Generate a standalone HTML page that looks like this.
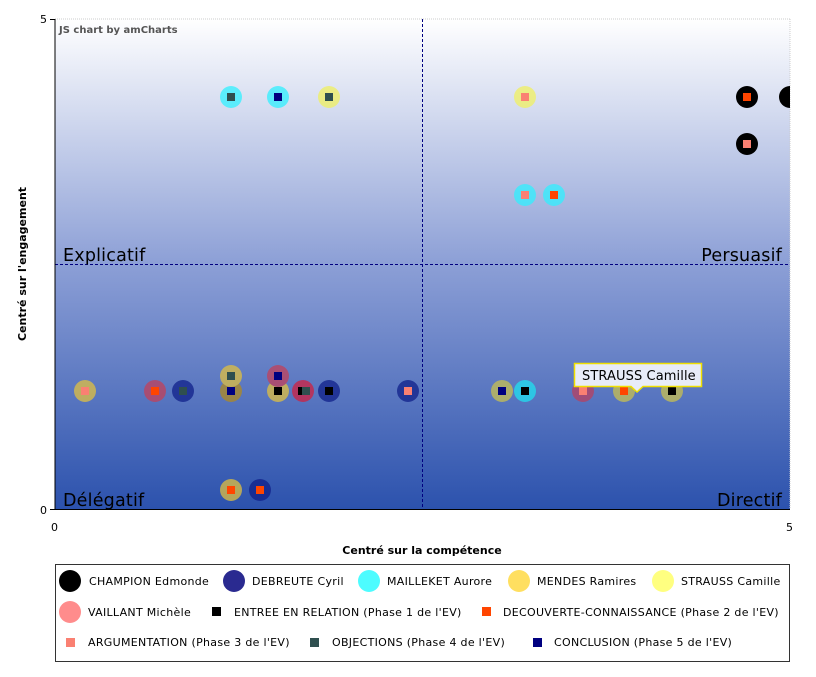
<!DOCTYPE html>
<html><head><meta charset="utf-8"><style>
html,body{margin:0;padding:0;background:#fff;}
svg text{font-family:"DejaVu Sans","Liberation Sans",sans-serif;}
</style></head><body>
<svg width="816" height="672" xmlns="http://www.w3.org/2000/svg">
<defs>
<linearGradient id="bg" x1="0" y1="0" x2="0" y2="1">
<stop offset="0" stop-color="#ffffff"/>
<stop offset="0.5" stop-color="#8c9fd6"/>
<stop offset="1" stop-color="#2c52ad"/>
</linearGradient>
<clipPath id="pc"><rect x="55" y="19" width="735" height="490"/></clipPath>
</defs>
<rect x="55" y="19" width="735" height="490" fill="url(#bg)"/>
<line x1="55" y1="19" x2="790" y2="19" stroke="#ccc" stroke-dasharray="1,1"/>
<line x1="790" y1="19" x2="790" y2="509" stroke="#ccc" stroke-dasharray="1,1"/>
<line x1="422.5" y1="19" x2="422.5" y2="509" stroke="#000080" stroke-dasharray="3,2"/>
<line x1="55" y1="264.5" x2="790" y2="264.5" stroke="#000080" stroke-dasharray="3,2"/>
<line x1="55" y1="19" x2="55" y2="509" stroke="#000" stroke-width="1"/>
<line x1="55" y1="509.5" x2="790" y2="509.5" stroke="#000"/>
<line x1="50" y1="19.5" x2="55" y2="19.5" stroke="#000"/>
<line x1="50" y1="509.5" x2="55" y2="509.5" stroke="#000"/>
<text x="40" y="23" font-size="11">5</text>
<text x="40" y="514" font-size="11">0</text>
<text x="51" y="531" font-size="11">0</text>
<text x="786" y="531" font-size="11">5</text>
<text x="59" y="33" font-size="10" font-weight="bold" fill="#555">JS chart by amCharts</text>
<g font-size="17.5" letter-spacing="0.2">
<text x="63" y="261">Explicatif</text>
<text x="782" y="261" text-anchor="end">Persuasif</text>
<text x="63" y="506">Délégatif</text>
<text x="782" y="506" text-anchor="end">Directif</text>
</g>
<text x="422" y="554" font-size="11" font-weight="bold" text-anchor="middle">Centré sur la compétence</text>
<text transform="translate(26,264) rotate(-90)" font-size="11" font-weight="bold" text-anchor="middle">Centré sur l'engagement</text>
<g clip-path="url(#pc)">
<g opacity="0.75">
<circle cx="85" cy="391" r="11" fill="#e0c040"/>
<circle cx="155" cy="391" r="11" fill="#c2405a"/>
<circle cx="183" cy="391" r="11" fill="#10208a"/>
<circle cx="231" cy="391" r="11" fill="#b08a20"/>
<circle cx="231" cy="376" r="11" fill="#e0c040"/>
<circle cx="278" cy="391" r="11" fill="#e0c040"/>
<circle cx="278" cy="376" r="11" fill="#c2405a"/>
<circle cx="303" cy="391" r="11" fill="#d02040"/>
<circle cx="329" cy="391" r="11" fill="#10208a"/>
<circle cx="408" cy="391" r="11" fill="#10208a"/>
<circle cx="502" cy="391" r="11" fill="#c8c050"/>
<circle cx="525" cy="391" r="11" fill="#20e0f0"/>
<circle cx="583" cy="391" r="11" fill="#b84060"/>
<circle cx="624" cy="391" r="11" fill="#c8c050"/>
<circle cx="672" cy="391" r="11" fill="#c8c050"/>
<circle cx="231" cy="490" r="11" fill="#e0c040"/>
<circle cx="260" cy="490" r="11" fill="#10208a"/>
<circle cx="231" cy="97" r="11" fill="#30f0ff"/>
<circle cx="278" cy="97" r="11" fill="#30f0ff"/>
<circle cx="329" cy="97" r="11" fill="#f0f060"/>
<circle cx="525" cy="97" r="11" fill="#f0f060"/>
<circle cx="525" cy="195" r="11" fill="#30f0ff"/>
<circle cx="554" cy="195" r="11" fill="#30f0ff"/>
</g>
<circle cx="747" cy="97" r="11" fill="#000"/>
<circle cx="790" cy="97" r="11" fill="#000"/>
<circle cx="747" cy="144" r="11" fill="#000"/>
<g>
<rect x="81" y="387" width="8" height="8" fill="#fa8072"/>
<rect x="151" y="387" width="8" height="8" fill="#ff4500"/>
<rect x="179" y="387" width="8" height="8" fill="#2f4f4f"/>
<rect x="227" y="387" width="8" height="8" fill="#000080"/>
<rect x="227" y="372" width="8" height="8" fill="#2f4f4f"/>
<rect x="274" y="387" width="8" height="8" fill="#000"/>
<rect x="274" y="372" width="8" height="8" fill="#000080"/>
<rect x="298" y="387" width="8" height="8" fill="#000"/>
<rect x="302" y="387" width="8" height="8" fill="#2f4f4f"/>
<rect x="325" y="387" width="8" height="8" fill="#000"/>
<rect x="404" y="387" width="8" height="8" fill="#fa8072"/>
<rect x="498" y="387" width="8" height="8" fill="#000080"/>
<rect x="521" y="387" width="8" height="8" fill="#000"/>
<rect x="579" y="387" width="8" height="8" fill="#fa8072"/>
<rect x="620" y="387" width="8" height="8" fill="#ff4500"/>
<rect x="668" y="387" width="8" height="8" fill="#000"/>
<rect x="227" y="486" width="8" height="8" fill="#ff4500"/>
<rect x="256" y="486" width="8" height="8" fill="#ff4500"/>
<rect x="227" y="93" width="8" height="8" fill="#2f4f4f"/>
<rect x="274" y="93" width="8" height="8" fill="#000080"/>
<rect x="325" y="93" width="8" height="8" fill="#2f4f4f"/>
<rect x="521" y="93" width="8" height="8" fill="#fa8072"/>
<rect x="521" y="191" width="8" height="8" fill="#fa8072"/>
<rect x="550" y="191" width="8" height="8" fill="#ff4500"/>
<rect x="743" y="93" width="8" height="8" fill="#ff4500"/>
<rect x="743" y="140" width="8" height="8" fill="#fa8072"/>
</g>
</g>
<path d="M574.5,363.5 H701.5 V386.5 H643 L637,392 L631,386.5 H574.5 Z" fill="#e8ecf8" stroke="#f0e000" stroke-width="1.5"/>
<text x="582" y="380" font-size="13" letter-spacing="0.1">STRAUSS Camille</text>
<rect x="55.5" y="564.5" width="734" height="97" fill="#fff" stroke="#333"/>
<g font-size="11" letter-spacing="0.3">
<circle cx="70" cy="581" r="11" fill="#000"/><text x="89" y="585">CHAMPION Edmonde</text>
<circle cx="234" cy="581" r="11" fill="#2a2a90"/><text x="252" y="585">DEBREUTE Cyril</text>
<circle cx="369" cy="581" r="11" fill="#4dfcff"/><text x="387" y="585">MAILLEKET Aurore</text>
<circle cx="519" cy="581" r="11" fill="#ffdf60"/><text x="537" y="585">MENDES Ramires</text>
<circle cx="663" cy="581" r="11" fill="#ffff80"/><text x="681" y="585">STRAUSS Camille</text>
<circle cx="70" cy="612" r="11" fill="#ff8c8c"/><text x="88" y="616">VAILLANT Michèle</text>
<rect x="212" y="607" width="9" height="9" fill="#000"/><text x="234" y="616">ENTREE EN RELATION (Phase 1 de l'EV)</text>
<rect x="482" y="607" width="9" height="9" fill="#ff4500"/><text x="503" y="616">DECOUVERTE-CONNAISSANCE (Phase 2 de l'EV)</text>
<rect x="66" y="638" width="9" height="9" fill="#fa8072"/><text x="88" y="646">ARGUMENTATION (Phase 3 de l'EV)</text>
<rect x="310" y="638" width="9" height="9" fill="#2f4f4f"/><text x="332" y="646">OBJECTIONS (Phase 4 de l'EV)</text>
<rect x="533" y="638" width="9" height="9" fill="#000080"/><text x="554" y="646">CONCLUSION (Phase 5 de l'EV)</text>
</g>
</svg>
</body></html>
